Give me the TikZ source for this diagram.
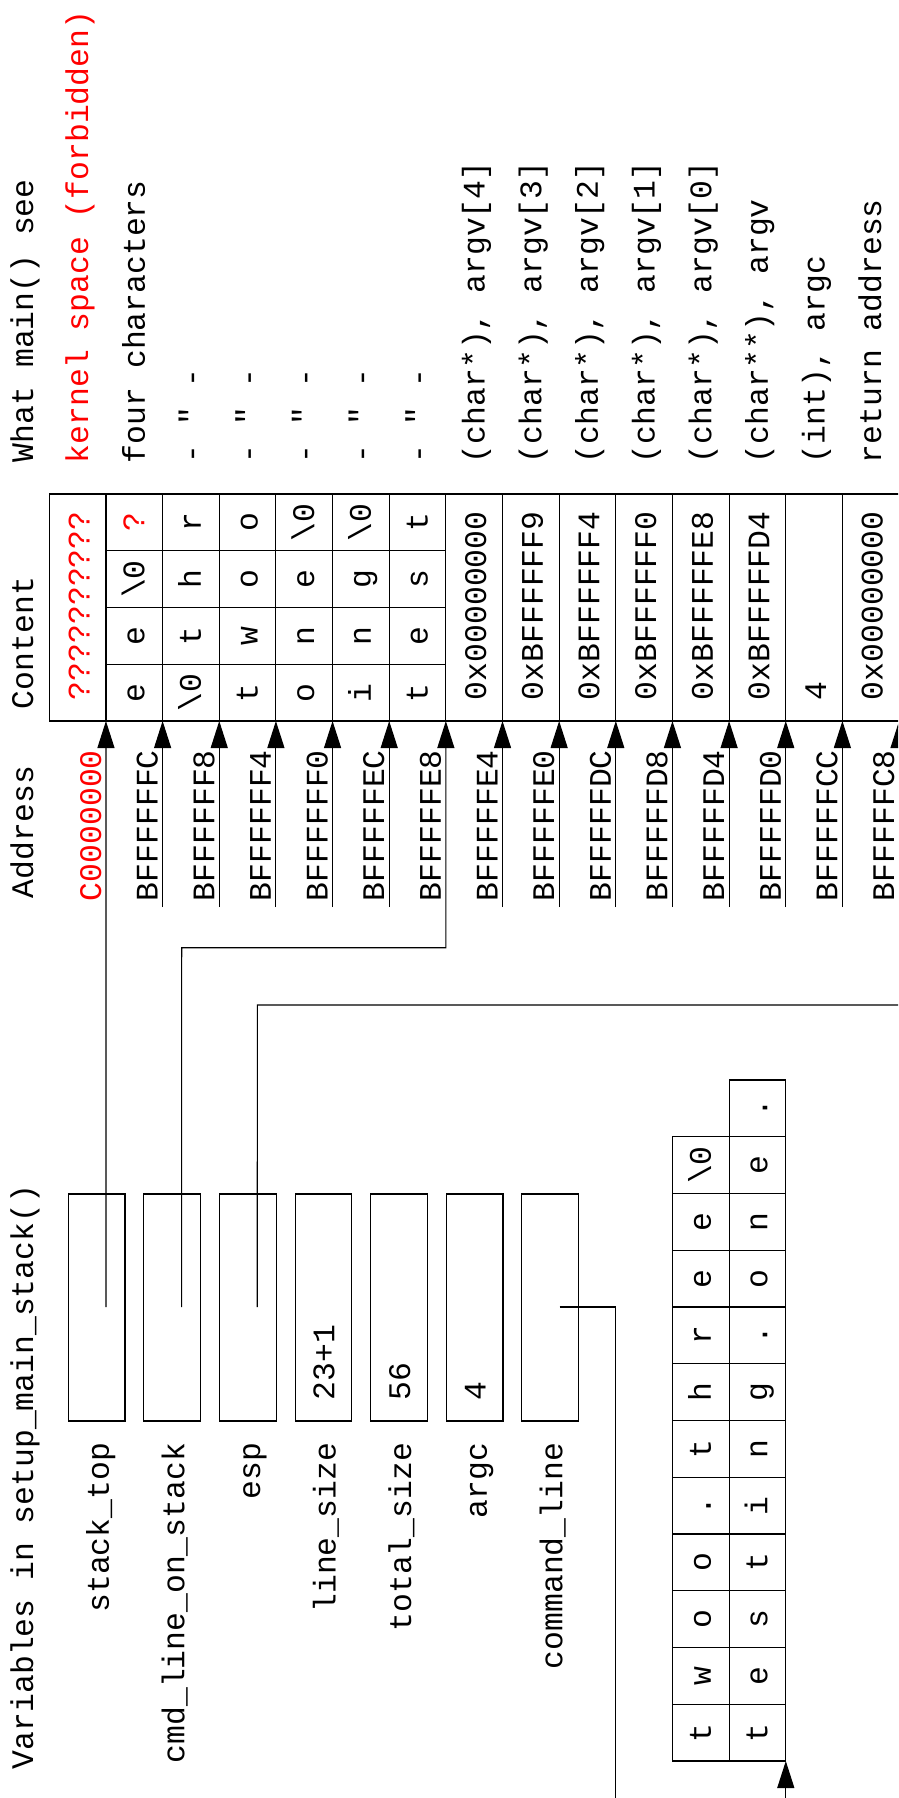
\documentclass[tikz,border=0pt]{standalone}
\usepackage{fontspec}
\setmonofont{Liberation Mono}
\usetikzlibrary{arrows.meta}
\newcommand{\mynul}{\textbackslash 0}
\newcommand{\myqm}{\textcolor{red}{?}}
\begin{document}
\begin{tikzpicture}[x=1pt,y=-1pt,
  every node/.style={inner sep=0pt, outer sep=0pt, font=\ttfamily\fontsize{31.4}{36}\selectfont},
  lbl/.style={rotate=90, anchor=base west},
  ctr/.style={rotate=90, anchor=base},
  rlbl/.style={rotate=90, anchor=base east},
  ln/.style={line width=1.1pt},
  ptr/.style={ln, -{Triangle[length=27pt,width=17pt]}},
  varbox/.style={draw, ln, minimum width=56.65pt, minimum height=227pt, anchor=north west}]
\useasboundingbox (0,0) rectangle (898,1798);
\begin{scope}
\clip (0,0) rectangle (898,1798);

% headers
\node[lbl] (hWhat) at (33,462) {What main() see};
\node[lbl] (hContent) at (33,709) {Content};
\node[lbl] (hAddr) at (33,898) {Address};
\node[lbl] (hVars) at (33,1769) {Variables in setup\_main\_stack()};

% what main() sees
\node[lbl,text=red] (w0) at (88.1,463) {kernel space (forbidden)};
\foreach \r/\t in {1/four characters, 2/- " -, 3/- " -, 4/- " -, 5/- " -, 6/- " -,
  7/{(char*), argv[4]}, 8/{(char*), argv[3]}, 9/{(char*), argv[2]}, 10/{(char*), argv[1]},
  11/{(char*), argv[0]}, 12/{(char**), argv}, 13/{(int), argc}, 14/return address}{
  \pgfmathsetmacro\cx{77.6+56.65*\r+10.5}
  \node[lbl] (w\r) at (\cx,463) {\t};
}

% content table
\draw[ln] (49.3,494) -- (910,494);
\draw[ln] (49.3,721) -- (910,721);
\draw[ln] (49.3,494) -- (49.3,721);
\foreach \k in {1,...,15}{
  \pgfmathsetmacro\xk{49.3+56.65*\k}
  \draw[ln] (\xk,494) -- (\xk,721);
  \coordinate (t\k) at (\xk,721);
  \coordinate (f\k) at (\xk,907);
}
\foreach \j in {1,2,3}{
  \draw[ln] (106,{494+56.75*\j}) -- (445.9,{494+56.75*\j});
}
\node[lbl,text=red] (v0) at (89.6,700) {??????????};
\foreach \r/\a/\b/\c/\d in {1/e/e/\mynul/\myqm, 2/\mynul/t/h/r, 3/t/w/o/o,
  4/o/n/e/\mynul, 5/i/n/g/\mynul, 6/t/e/s/t}{
  \pgfmathsetmacro\cx{77.6+56.65*\r+10}
  \node[ctr] (c\r a) at (\cx,692.6) {\a};
  \node[ctr] (c\r b) at (\cx,635.9) {\b};
  \node[ctr] (c\r c) at (\cx,579.1) {\c};
  \node[ctr] (c\r d) at (\cx,522.4) {\d};
}
\foreach \r/\t in {7/0x00000000, 8/0xBFFFFFF9, 9/0xBFFFFFF4, 10/0xBFFFFFF0,
  11/0xBFFFFFE8, 12/0xBFFFFFD4, 13/4, 14/0x00000000}{
  \pgfmathsetmacro\cx{77.6+56.65*\r+12}
  \node[lbl] (v\r) at (\cx,700) {\t};
}

% addresses
\node[lbl,text=red] (a1) at (101,901) {C0000000};
\foreach \k/\t in {2/BFFFFFFC,3/BFFFFFF8,4/BFFFFFF4,5/BFFFFFF0,6/BFFFFFEC,7/BFFFFFE8,
  8/BFFFFFE4,9/BFFFFFE0,10/BFFFFFDC,11/BFFFFFD8,12/BFFFFFD4,13/BFFFFFD0,14/BFFFFFCC,15/BFFFFFC8}{
  \pgfmathsetmacro\xk{49.3+56.65*\k-5}
  \node[lbl] (a\k) at (\xk,901) {\t};
}
\foreach \k in {2,3,4,5,6,8,9,10,11,12,13,14}{
  \draw[ptr] (f\k) -- (t\k);
}

% variables
\foreach \m/\n in {0/stack\_top, 1/cmd\_line\_on\_stack, 2/esp, 3/line\_size,
  4/total\_size, 5/argc, 6/command\_line}{
  \pgfmathsetmacro\bx{68.3+75.6*\m}
  \pgfmathsetmacro\lx{68.3+75.6*\m+40.5}
  \pgfmathsetmacro\px{68.3+75.6*\m+37.7}
  \node[varbox] (box\m) at (\bx,1194) {};
  \node[rlbl] (lab\m) at (\lx,1443) {\n};
  \coordinate (p\m) at (\px,1307);
}
\node[lbl] (val3) at ({68.3+75.6*3+39.3},1400) {23+1};
\node[lbl] (val4) at ({68.3+75.6*4+39.3},1400) {56};
\node[lbl] (val5) at ({68.3+75.6*5+39.3},1400) {4};

% command line buffer
\foreach \i/\ch in {0/t,1/w,2/o,3/o,4/.,5/t,6/h,7/r,8/e,9/e,10/\mynul}{
  \draw[ln] (672.5,{1761-56.75*(\i+1)}) rectangle (729.1,{1761-56.75*\i});
  \node[ctr] (ca\i) at (710.8,{1761-56.75*(\i+0.5)}) {\ch};
}
\foreach \i/\ch in {0/t,1/e,2/s,3/t,4/i,5/n,6/g,7/.,8/o,9/n,10/e,11/.}{
  \draw[ln] (729.1,{1761-56.75*(\i+1)}) rectangle (785.8,{1761-56.75*\i});
  \node[ctr] (cb\i) at (767.4,{1761-56.75*(\i+0.5)}) {\ch};
}
\coordinate (tb) at (785.8,1761);

% pointers
\coordinate (k1) at (181.7,947.7);
\coordinate (k2) at (257.4,1005);
\coordinate (k6a) at (615.8,1307);
\coordinate (k6b) at (615.8,1850);
\draw[ptr] (p0) -- (t1);
\draw[ptr] (p1) -- (k1) -| (t7);
\draw[ptr] (p2) -- (k2) -| (t15);
\draw[ptr] (p6) -- (k6a) -- (k6b) -| (tb);
\end{scope}
\end{tikzpicture}
\end{document}
